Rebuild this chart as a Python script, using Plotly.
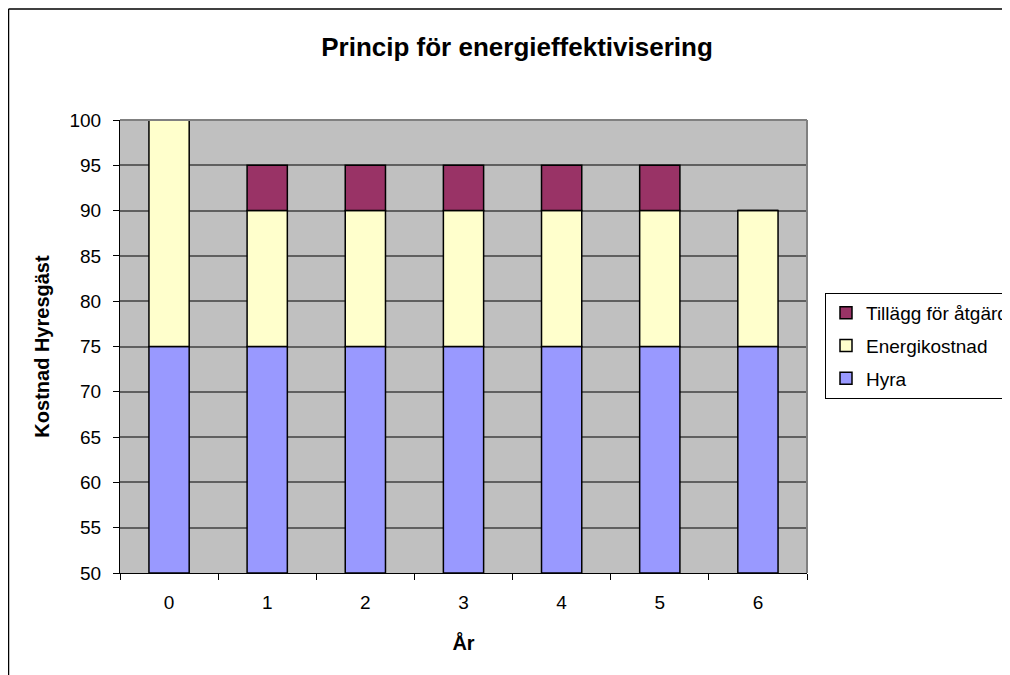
import plotly.graph_objects as go

years = ["0", "1", "2", "3", "4", "5", "6"]
hyra = [75, 75, 75, 75, 75, 75, 75]
energikostnad = [25, 15, 15, 15, 15, 15, 15]
tillagg = [0, 5, 5, 5, 5, 5, 0]

axis_floor = 50
hyra_base = [axis_floor] * len(years)
hyra_len = [h - axis_floor for h in hyra]
top_base = [h + e for h, e in zip(hyra, energikostnad)]

FONT = "Liberation Sans, Arial, sans-serif"

fig = go.Figure()
fig.add_trace(go.Bar(
    x=years, y=hyra_len, base=hyra_base, name="Hyra", legendgroup="c", legendrank=3,
    marker=dict(color="#9999FF", line=dict(color="black", width=1.5)),
))
fig.add_trace(go.Bar(
    x=years, y=energikostnad, base=hyra, name="Energikostnad", legendgroup="b", legendrank=2,
    marker=dict(color="#FFFFCC", line=dict(color="black", width=1.5)),
))
fig.add_trace(go.Bar(
    x=years, y=tillagg, base=top_base, name="Tillägg för åtgärd", legendgroup="a", legendrank=1,
    marker=dict(color="#993366", line=dict(color="black", width=1.5)),
))

# page has an 8px body margin: figure coords = page coords - 8
W, H = 1002, 667
L, T = 112, 112
PW, PH = 687, 453

def px_x(p):
    return (p - L) / PW

def px_y(p):
    return (T + PH - p) / PH

fig.update_layout(
    width=W, height=H,
    margin=dict(l=L, r=W - L - PW, t=T, b=H - T - PH, pad=0, autoexpand=False),
    paper_bgcolor="white",
    plot_bgcolor="#C0C0C0",
    barmode="overlay",
    bargap=0.59,
    font=dict(family=FONT, size=19, color="black"),
    title=dict(text="<b>Princip för energieffektivisering</b>",
               x=509 / W, xanchor="center", y=1 - 39 / H, yanchor="middle",
               xref="container", yref="container",
               font=dict(size=26, family=FONT, color="black")),
    showlegend=True,
    legend=dict(x=px_x(817), y=px_y(285), xanchor="left", yanchor="top",
                bordercolor="black", borderwidth=1, bgcolor="white",
                traceorder="grouped", tracegroupgap=5,
                font=dict(size=19, family=FONT),
                itemwidth=30),
    xaxis=dict(
        type="category", range=[-0.5, 6.5],
        showgrid=False, showline=True, linecolor="black", linewidth=1,
        ticks="outside", ticklen=6, tickcolor="black", tickson="boundaries",
        ticklabelstandoff=12,
        title=dict(text="<b>År</b>", standoff=24, font=dict(size=20)),
        zeroline=False,
    ),
    yaxis=dict(
        range=[50, 100], dtick=5, tick0=50,
        showgrid=True, gridcolor="#606060", gridwidth=1.5,
        showline=True, linecolor="black", linewidth=1,
        ticks="outside", ticklen=6, tickcolor="black",
        ticklabelstandoff=8,
        title=dict(text="<b>Kostnad Hyresgäst</b>", standoff=14, font=dict(size=20)),
        zeroline=False,
    ),
    shapes=[
        dict(type="line", xref="paper", yref="paper", x0=1, x1=1, y0=0, y1=1,
             line=dict(color="#808080", width=2)),
        dict(type="line", xref="paper", yref="paper", x0=0, x1=1, y0=1, y1=1,
             line=dict(color="#808080", width=2)),
        dict(type="line", xref="paper", yref="paper", x0=px_x(0.5), x1=px_x(0.5),
             y0=px_y(1), y1=px_y(700), line=dict(color="black", width=1.5)),
        dict(type="line", xref="paper", yref="paper", x0=px_x(0.5), x1=px_x(1030),
             y0=px_y(1), y1=px_y(1), line=dict(color="black", width=1.5)),
    ],
)

fig.write_html("out.html")
